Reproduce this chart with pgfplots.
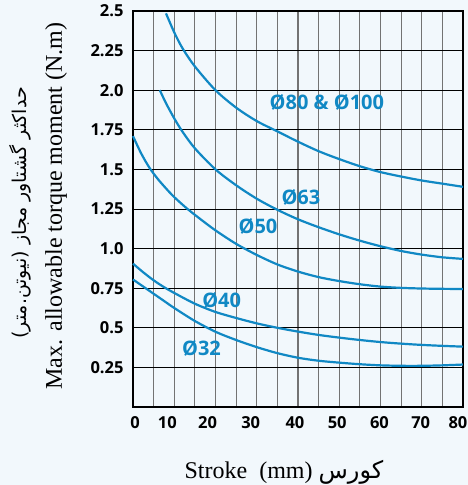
\documentclass[border=0pt]{standalone}
\usepackage{fontspec}
\setmainfont{Liberation Serif}
\newfontfamily\tickfont{Open Sans}
\newfontfamily\arabicfont[Script=Arabic]{DejaVu Sans}
\TeXXeTstate=1
\usepackage{pgfplots}
\pgfplotsset{compat=1.18}
\usetikzlibrary{backgrounds}
\definecolor{bg}{RGB}{242,248,252}
\definecolor{cblue}{RGB}{16,136,196}
\tikzset{curve/.style={draw=cblue, line width=2.2bp, smooth, mark=none}}
\begin{document}
\begin{tikzpicture}
\begin{axis}[
  scale only axis, width=330bp, height=396bp,
  xmin=0, xmax=80, ymin=0, ymax=2.5,
  xtick={0,10,20,30,40,50,60,70,80},
  minor xtick={5,15,25,35,45,55,65,75},
  xticklabels={\hspace*{4bp}0,10\hspace*{14bp},20\hspace*{16bp},30\hspace*{12bp},40\hspace*{6bp},50\hspace*{4bp},60\hspace*{2bp},70\hspace*{2bp},80\hspace*{10bp}},
  ytick={0.25,0.5,0.75,1.0,1.25,1.5,1.75,2.0,2.25,2.5},
  yticklabels={0.25,0.5,0.75,1.0,1.25,1.5,1.75,2.0,2.25,2.5},
  /pgf/number format/assume math mode=true,
  ticklabel style={font=\fontsize{16.5bp}{16.5bp}\tickfont\bfseries},
  xticklabel style={yshift=-6bp},
  yticklabel style={xshift=-6bp},
  grid=both,
  major x grid style={draw=black!55, line width=1.1bp},
  minor x grid style={draw=black!55, line width=1.1bp},
  major y grid style={draw=black, line width=0.9bp},
  major tick length=0pt, minor tick length=0pt,
  axis line style={black, line width=1.6bp},
  axis background/.style={fill=bg},
  clip=false,
]
\addplot[curve] coordinates {(8.0,2.485)(10,2.365)(12,2.265)(15,2.15)(20,2.0)(25,1.89)(30,1.805)(35,1.74)(40,1.675)(45,1.615)(50,1.565)(55,1.52)(60,1.483)(65,1.455)(70,1.43)(75,1.41)(80,1.39)};
\addplot[curve] coordinates {(6.5,2.00)(8,1.918)(10,1.822)(12,1.738)(15,1.633)(20,1.50)(25,1.40)(30,1.315)(35,1.245)(40,1.185)(45,1.135)(50,1.09)(55,1.05)(60,1.015)(65,0.985)(70,0.962)(75,0.945)(80,0.935)};
\addplot[curve] coordinates {(0,1.71)(2,1.60)(4,1.51)(6,1.44)(8,1.38)(10,1.325)(13,1.255)(16,1.193)(20,1.115)(25,1.03)(30,0.96)(35,0.90)(40,0.855)(45,0.82)(50,0.795)(55,0.775)(60,0.76)(65,0.752)(70,0.748)(75,0.746)(80,0.745)};
\addplot[curve] coordinates {(0,0.905)(2.5,0.85)(5,0.80)(7.5,0.757)(10,0.72)(15,0.652)(20,0.60)(25,0.562)(30,0.528)(35,0.50)(40,0.476)(45,0.455)(50,0.438)(55,0.423)(60,0.41)(65,0.40)(70,0.392)(75,0.386)(80,0.381)};
\addplot[curve] coordinates {(0,0.805)(2.5,0.76)(5,0.715)(7.5,0.67)(10,0.625)(15,0.543)(20,0.475)(25,0.423)(30,0.378)(35,0.34)(40,0.311)(45,0.292)(50,0.28)(55,0.27)(60,0.263)(65,0.26)(70,0.26)(75,0.263)(80,0.268)};
\begin{scope}[every node/.style={text=cblue, font=\fontsize{20bp}{20bp}\tickfont\bfseries}]
\node at (axis cs:47,1.92) {Ø80 \& Ø100};
\node at (axis cs:40.7,1.326) {Ø63};
\node at (axis cs:30.3,1.14) {Ø50};
\node at (axis cs:21.5,0.675) {Ø40};
\node at (axis cs:16.6,0.37) {Ø32};
\end{scope}
\coordinate (SW) at (rel axis cs:0,0);
\coordinate (NE) at (rel axis cs:1,1);
\coordinate (W) at (rel axis cs:0,0.5);
\end{axis}
\node[rotate=90, font=\fontsize{24bp}{24bp}\selectfont] at ([shift={(-77bp,3bp)}]W) {Max. allowable torque moment (N.m)};
\node[rotate=90, font=\arabicfont\fontsize{19bp}{19bp}\selectfont] at ([shift={(-113bp,-4bp)}]W) {\beginR حداکثر گشتاور مجاز (نیوتن.متر)\endR};
\node[font=\fontsize{24bp}{24bp}\selectfont] at ([shift={(151bp,-65bp)}]SW) {Stroke\ \ (mm) {\arabicfont\beginR کورس\endR}};
\begin{scope}[on background layer]
\fill[bg] ([shift={(-133bp,-78bp)}]SW) rectangle ([shift={(5bp,11bp)}]NE);
\end{scope}
\pgfresetboundingbox
\path ([shift={(-133bp,-78bp)}]SW) rectangle ([shift={(5bp,11bp)}]NE);
\end{tikzpicture}
\end{document}
